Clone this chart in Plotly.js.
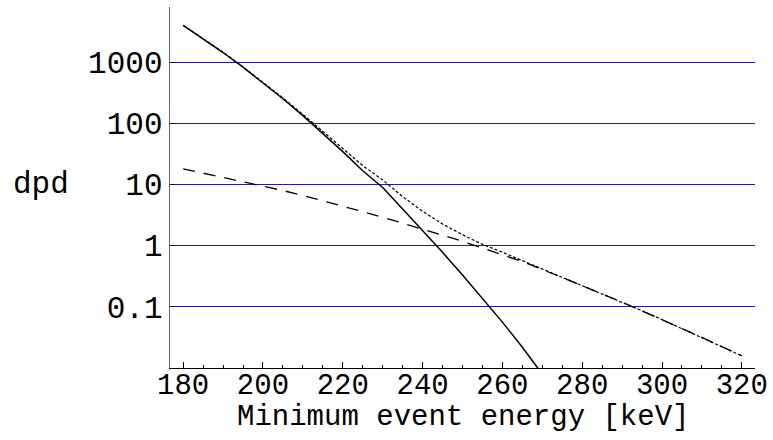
<!DOCTYPE html>
<html>
<head>
<meta charset="utf-8">
<script src="https://cdn.plot.ly/plotly-3.0.1.min.js"></script>
<style>
html,body{margin:0;padding:0;background:#fff;}
#chart{width:773px;height:440px;}
</style>
</head>
<body>
<div id="chart"></div>
<script>
// Minimum event energy [keV]
const energy = [180,185,190,195,200,205,210,215,220,225,230,235,240,245,250,255,260,265,270,275,280,285,290,295,300,305,310,315,320];
// log10(dpd)
const solidLog  = [3.60,3.384,3.156,2.916,2.664,2.40,2.124,1.836,1.536,1.224,0.95,0.60,0.25,-0.11,-0.48,-0.86,-1.25,-1.66,-2.10];
const dashedLog = [1.256,1.186,1.115,1.046,0.975,0.90,0.82,0.735,0.64,0.555,0.465,0.37,0.27,0.17,0.07,-0.04,-0.14,-0.26,-0.39,-0.52,-0.655,-0.79,-0.925,-1.065,-1.21,-1.355,-1.50,-1.65,-1.80];
const dottedLog = [3.602,3.387,3.160,2.922,2.673,2.413,2.145,1.869,1.588,1.308,1.073,0.801,0.561,0.353,0.178,0.021,-0.108,-0.243,-0.382,-0.516,-0.655,-0.79,-0.925,-1.065,-1.21,-1.355,-1.50,-1.65,-1.80];
const yTickVals = [0.1,1,10,100,1000];
const yTickText = ['0.1','1','10','100','1000'];
const xTitle = 'Minimum event energy [keV]';
const yTitle = 'dpd';

const pow = a => a.map(v => Math.pow(10, v));
const font = 'Courier New, Courier, Nimbus Mono PS, FreeMono, Liberation Mono, monospace';

const traces = [
  {x: energy.slice(0, solidLog.length), y: pow(solidLog), mode:'lines', line:{color:'#000', width:1.5}, hoverinfo:'skip'},
  {x: energy, y: pow(dashedLog), mode:'lines', line:{color:'#000', width:1.3, dash:'12px,9px'}, hoverinfo:'skip'},
  {x: energy, y: pow(dottedLog), mode:'lines', line:{color:'#000', width:1.2, dash:'3px,2px'}, hoverinfo:'skip'}
];

const layout = {
  width: 773, height: 440,
  margin: {l:170, r:18, t:7, b:72},
  paper_bgcolor:'#fff', plot_bgcolor:'#fff',
  showlegend:false,
  font:{family:font, size:30, color:'#000'},
  xaxis:{
    range:[176.7, 323.3], tick0:180, dtick:20,
    showgrid:false, zeroline:false,
    showline:true, linecolor:'#000', linewidth:1.3,
    ticks:'inside', ticklen:6, tickcolor:'#000', tickwidth:1,
    minor:{dtick:5, ticks:'inside', ticklen:3, tickcolor:'#000', showgrid:false},
    tickfont:{family:font, size:29, color:'#000'},
    ticklabelstandoff:-10
  },
  yaxis:{
    type:'log', range:[-2, 3.9],
    tickvals:yTickVals, ticktext:yTickText,
    showgrid:true, gridcolor:'#22228e', gridwidth:1,
    zeroline:false,
    showline:true, linecolor:'#666', linewidth:1.3,
    ticks:'inside', ticklen:5, tickcolor:'#000',
    tickfont:{family:font, size:31, color:'#000'}
  },
  annotations:[
    {text:yTitle, xref:'paper', yref:'paper', x:-0.22, y:0.509, xanchor:'center', yanchor:'middle', showarrow:false, font:{family:font, size:31, color:'#000'}},
    {text:xTitle, xref:'paper', yref:'paper', x:0.5, y:-0.137, xanchor:'center', yanchor:'middle', showarrow:false, font:{family:font, size:29, color:'#000'}}
  ]
};

Plotly.newPlot('chart', traces, layout, {staticPlot:true, displayModeBar:false});
</script>
</body>
</html>
